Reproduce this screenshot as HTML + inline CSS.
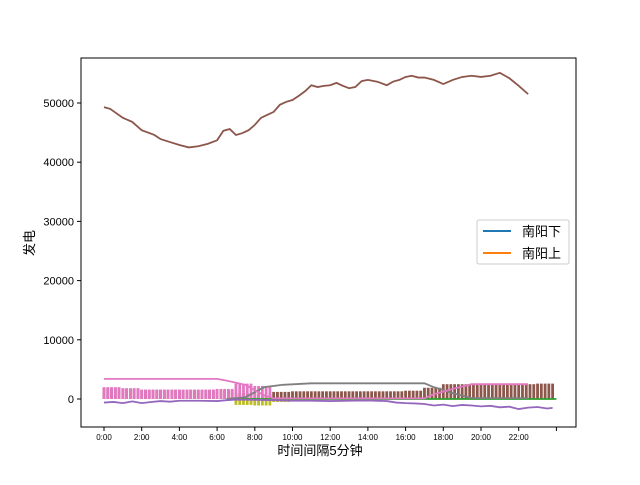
<!DOCTYPE html>
<html><head><meta charset="utf-8"><style>
body{margin:0;background:#fff;}
svg text{font-family:"Liberation Sans","Noto Sans CJK SC",sans-serif;}
</style></head><body>
<svg id="chart" width="640" height="480" xmlns="http://www.w3.org/2000/svg">
<rect x="0" y="0" width="640" height="480" fill="#fff"/>
<g id="marks"></g>
<rect x="81" y="58" width="495" height="369" fill="none" stroke="#000" stroke-width="1"/>
<g id="axes"></g>
<text x="320" y="455" font-size="13" text-anchor="middle">时间间隔5分钟</text>
<text x="34" y="243" font-size="13" text-anchor="middle" transform="rotate(-90 34 243)">发电</text>
<g>
<rect x="477" y="220" width="92" height="44" rx="2" fill="#fff" stroke="#ccc"/>
<line x1="483" y1="231" x2="511" y2="231" stroke="#1f77b4" stroke-width="2"/>
<text x="522" y="236" font-size="13">南阳下</text>
<line x1="483" y1="253" x2="511" y2="253" stroke="#ff7f0e" stroke-width="2"/>
<text x="522" y="258" font-size="13">南阳上</text>
</g>
</svg>
<script>
const yTicks=[0,10000,20000,30000,40000,50000];
const xTickLabels=["0:00","2:00","4:00","6:00","8:00","10:00","12:00","14:00","16:00","18:00","20:00","22:00",""];
const mainT=[0,0.33,1,1.5,2,2.67,3,3.5,4,4.5,5,5.5,6,6.33,6.67,7,7.33,7.67,8,8.33,8.67,9,9.33,9.67,10,10.33,10.67,11,11.33,11.67,12,12.33,12.67,13,13.33,13.67,14,14.5,15,15.33,15.67,16,16.33,16.67,17,17.5,18,18.5,19,19.5,20,20.5,21,21.5,22,22.5];
const mainV=[49300,49000,47500,46800,45400,44600,43900,43400,42900,42500,42700,43100,43700,45300,45600,44600,44900,45400,46300,47500,48000,48500,49700,50200,50500,51200,52000,53000,52700,52900,53000,53400,52900,52500,52700,53700,53900,53600,53000,53600,53900,54400,54600,54300,54300,53900,53200,53900,54400,54600,54400,54600,55100,54200,52900,51500];
const pinkLineT=[0,6,6.5,7.5,8.5,9,17,17.5,18.5,19.5,22.5];
const pinkLineV=[3400,3400,3100,2400,600,100,100,800,1700,2500,2500];
const greyT=[6.5,7.5,8.5,9.5,11,17,17.5,18.5,19.5,22.5];
const greyV=[0,300,2000,2400,2650,2650,2000,1000,150,150];
const greenT=[6.5,24];
const greenV=[0,0];
const purpleT=[0,0.5,1,1.5,2,2.5,3,3.5,4,5,6,6.5,7,8,9,10,11,12,13,14,15,15.5,16,16.5,17,17.5,18,18.5,19,19.5,20,20.5,21,21.5,22,22.5,23,23.5,23.8];
const purpleV=[-600,-500,-700,-400,-700,-500,-350,-450,-300,-300,-350,-200,-100,-150,-200,-300,-300,-350,-300,-250,-350,-600,-700,-750,-850,-1100,-950,-1200,-1000,-1100,-1250,-1150,-1400,-1300,-1700,-1450,-1350,-1600,-1500];
const pinkBarHourly=[2000,1800,1600,1600,1600,1600,1700,2600,2200,0,0,0,0,0,0,0,0,0,0,0,0,0,0,0];
const brownBarHourly=[1900,1800,1500,1500,1500,1500,1500,1000,800,1200,1300,1300,1300,1300,1300,1300,1400,1900,2500,2500,2500,2500,2500,2600];
const oliveBarHourly=[0,0,0,0,0,0,0,-1000,-1100,-500,-300,0,0,0,0,0,0,0,0,0,0,0,0,0];
const NS="http://www.w3.org/2000/svg";
function xs(h){return 104+h*18.85;}
function ys(v){return 399-v*296/50000;}
const marks=document.getElementById('marks'),axes=document.getElementById('axes');
function mk(tag,attrs,parent){const e=document.createElementNS(NS,tag);for(const k in attrs)e.setAttribute(k,attrs[k]);parent.appendChild(e);return e;}
// bars: 5 per hour
for(let h=0;h<24;h++){for(let k=0;k<5;k++){const t=h+k*0.2;const x=xs(t)-1.4;
 const bb=brownBarHourly[h];if(bb){const r=mk('rect',{x:x,y:ys(bb),width:2.8,height:ys(0)-ys(bb),fill:'#8c564b'},marks);
 
 }
 const pb=pinkBarHourly[h];if(pb){const r=mk('rect',{x:x,y:ys(pb),width:2.8,height:ys(0)-ys(pb),fill:'#e377c2'},marks);
 
 }
 const ob=oliveBarHourly[h];if(ob){const r=mk('rect',{x:x,y:ys(0),width:2.8,height:ys(ob)-ys(0),fill:'#bcbd22'},marks);
 
 }
}}
function line(T,V,color,name){const p=mk('polyline',{points:T.map((t,i)=>xs(t)+','+ys(V[i])).join(' '),fill:'none',stroke:color,'stroke-width':1.8},marks);
 
 }
line(greenT,greenV,'#2ca02c','green-line');
line(greyT,greyV,'#7f7f7f','grey-line');
line(pinkLineT,pinkLineV,'#e377c2','pink-line');
line(purpleT,purpleV,'#9467bd','purple-line');
line(mainT,mainV,'#8c564b','main-generation-line');
yTicks.forEach(v=>{const y=ys(v);mk('line',{x1:81,y1:y,x2:77,y2:y,stroke:'#000'},axes);
 const t=mk('text',{x:74,y:y+4,'font-size':11,'text-anchor':'end'},axes);t.textContent=v;
 
 });
xTickLabels.forEach((l,i)=>{const x=xs(i*2);mk('line',{x1:x,y1:427,x2:x,y2:431,stroke:'#000'},axes);
 if(l){const t=mk('text',{x:x,y:440,'font-size':8,'text-anchor':'middle'},axes);t.textContent=l;
 
 }});
</script>
</body></html>
